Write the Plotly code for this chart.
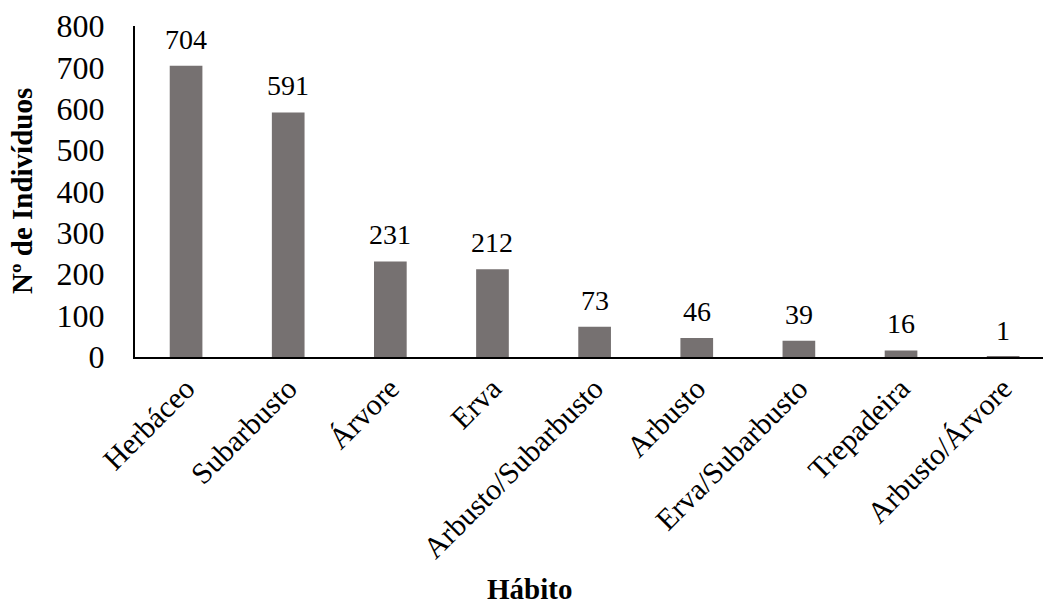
import plotly.graph_objects as go

# Growth habit categories and number of individuals
habitos = ["Herbáceo", "Subarbusto", "Árvore", "Erva", "Arbusto/Subarbusto",
           "Arbusto", "Erva/Subarbusto", "Trepadeira", "Arbusto/Árvore"]
individuos = [704, 591, 231, 212, 73, 46, 39, 16, 1]
y_ticks = [0, 100, 200, 300, 400, 500, 600, 700, 800]

FONT = "Liberation Serif"
BAR_COLOR = "#767171"

fig = go.Figure(
    go.Bar(
        x=habitos,
        y=individuos,
        marker=dict(color=BAR_COLOR, line=dict(width=0)),
        cliponaxis=False,
    )
)

# Value labels above each bar
for h, v in zip(habitos, individuos):
    fig.add_annotation(
        x=h, y=v, text=str(v), showarrow=False,
        xref="x", yref="y", yanchor="bottom", yshift=9,
        font=dict(family=FONT, size=28, color="black"),
    )

# Axis titles
fig.add_annotation(
    text="<b>Hábito</b>", xref="paper", yref="paper",
    x=0.435, y=-0.7, xanchor="center", yanchor="middle", showarrow=False,
    font=dict(family=FONT, size=29, color="black"),
)
fig.add_annotation(
    text="<b>Nº de Indivíduos</b>", xref="paper", yref="paper",
    x=-0.125, y=0.5, xanchor="center", yanchor="middle", showarrow=False,
    textangle=-90,
    font=dict(family=FONT, size=29, color="black"),
)

fig.update_layout(
    width=1043, height=613,
    margin=dict(l=135, r=0, t=26, b=256),
    paper_bgcolor="white", plot_bgcolor="white",
    bargap=0.68,
    showlegend=False,
    font=dict(family=FONT, size=28, color="black"),
)

# The category axis runs slightly past the right edge of the figure
fig.update_xaxes(
    range=[-0.5, 8.39],
    showline=True, linecolor="black", linewidth=2,
    showgrid=False, ticks="", tickangle=-45,
    tickfont=dict(family=FONT, size=30, color="black"),
)
fig.update_yaxes(
    range=[0, 800], tickvals=y_ticks,
    showline=True, linecolor="black", linewidth=2,
    showgrid=False, zeroline=False, ticks="",
    ticklabelstandoff=22,
    tickfont=dict(family=FONT, size=32, color="black"),
)

fig.write_html("out.html")
